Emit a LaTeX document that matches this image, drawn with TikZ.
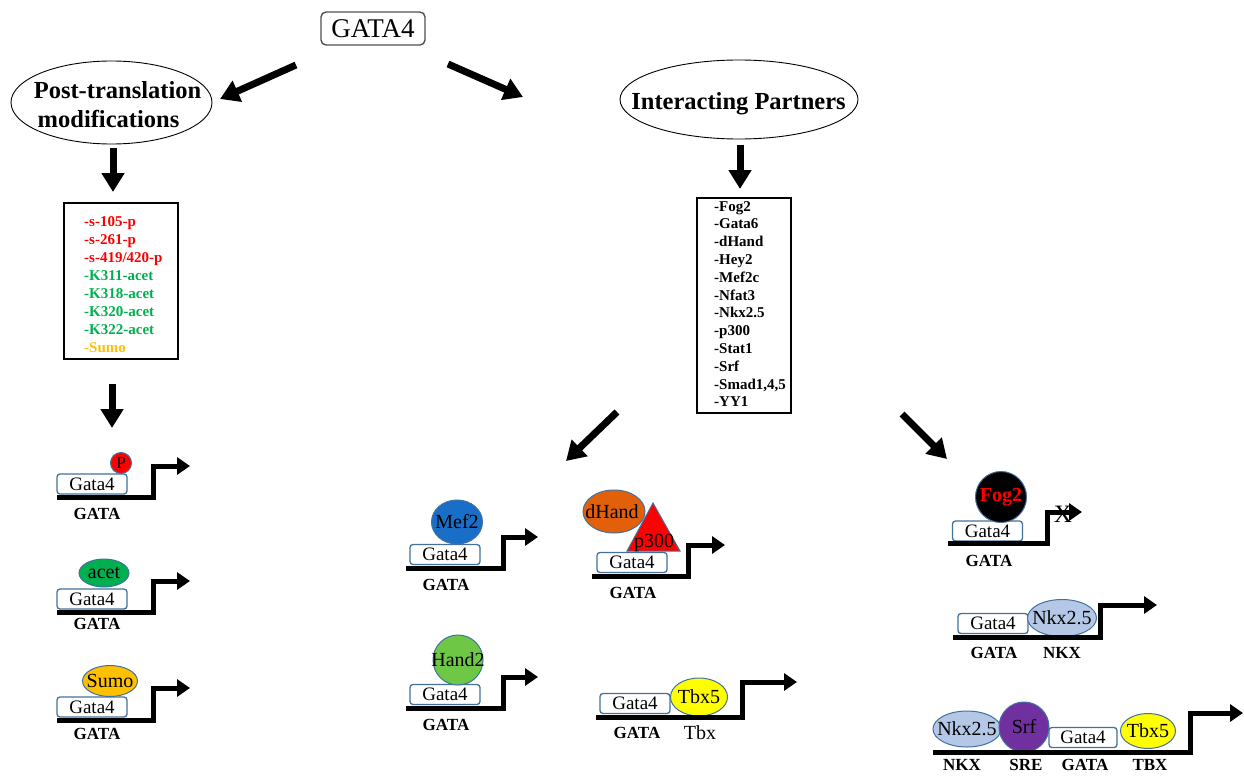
\documentclass[tikz,border=0pt]{standalone}
\usepackage{fontspec}
\setmainfont{Liberation Serif}
\usetikzlibrary{arrows.meta,shapes.geometric}
\definecolor{boxblue}{RGB}{65,113,156}
\definecolor{listred}{RGB}{255,0,0}
\definecolor{listgreen}{RGB}{0,176,80}
\definecolor{listorange}{RGB}{255,192,0}
\definecolor{acetgreen}{RGB}{0,176,80}
\definecolor{sumoorange}{RGB}{255,192,0}
\definecolor{mefblue}{RGB}{25,110,200}
\definecolor{handgreen}{RGB}{110,200,70}
\definecolor{dhandorange}{RGB}{226,96,10}
\definecolor{tbxyellow}{RGB}{255,255,0}
\definecolor{nkxblue}{RGB}{180,199,231}
\definecolor{srfpurple}{RGB}{112,48,160}
\definecolor{titlegray}{RGB}{80,80,80}
\newcommand\myfs[1]{\fontsize{#1pt}{#1pt}\selectfont}
\newcommand\zw[1]{\makebox[0pt]{#1}}
\begin{document}
\begin{tikzpicture}[x=1pt,y=-1pt,
 bigarrow/.style={line width=7pt,-{Triangle[length=19pt,width=22pt]}},
 dna/.style={line width=5pt,line join=miter,-{Triangle[length=13pt,width=17pt]}},
 gatabox/.style={draw=boxblue,line width=1.3pt,rounded corners=3pt,fill=white,minimum width=70pt,minimum height=20pt,inner sep=0pt,font=\myfs{19}},
 prot/.style={ellipse,draw=boxblue,line width=1pt,inner sep=0pt,font=\myfs{20}},
 protlabel/.style={inner sep=0pt,font=\myfs{20}},
 site/.style={font=\bfseries\myfs{17},inner sep=0pt},
 oval/.style={ellipse,draw=black,line width=0.9pt,inner sep=0pt},
 ovaltext/.style={anchor=base,inner sep=0pt,font=\bfseries\myfs{24.5}},
 listbox/.style={draw=black,line width=2pt,inner sep=0pt},
 listitem/.style={anchor=base west,inner sep=0pt,font=\bfseries\myfs{15}},
]
\useasboundingbox (0,0) rectangle (1244,776);

% ---------- top ----------
\node[draw=titlegray,line width=1.4pt,rounded corners=5pt,minimum width=104pt,minimum height=33pt,inner sep=0pt,font=\myfs{27}] (gata4) at (373,28.5) {\zw{GATA4}};

\node[oval,minimum width=201pt,minimum height=83pt] (ptm) at (111.5,102.5) {};
\node[ovaltext] (ptmA) at (117.5,98) {Post-translation};
\node[ovaltext] (ptmB) at (108.5,127) {modifications};

\node[oval,minimum width=238pt,minimum height=79pt] (ip) at (739,99.5) {};
\node[ovaltext] (ipA) at (738.5,109) {Interacting Partners};

\coordinate (a1s) at (296,65);  \coordinate (a1e) at (220,99);
\coordinate (a2s) at (448,64);  \coordinate (a2e) at (523,97);
\draw[bigarrow] (a1s) -- (a1e);
\draw[bigarrow] (a2s) -- (a2e);

% ---------- lists ----------
\node[listbox,minimum width=114pt,minimum height=156pt] (ptmbox) at (121,281) {};
\node[listitem,text=listred]    (l1) at (84,226) {-s-105-p};
\node[listitem,text=listred]    (l2) at (84,244) {-s-261-p};
\node[listitem,text=listred]    (l3) at (84,262) {-s-419/420-p};
\node[listitem,text=listgreen]  (l4) at (84,280) {-K311-acet};
\node[listitem,text=listgreen]  (l5) at (84,298) {-K318-acet};
\node[listitem,text=listgreen]  (l6) at (84,316) {-K320-acet};
\node[listitem,text=listgreen]  (l7) at (84,334) {-K322-acet};
\node[listitem,text=listorange] (l8) at (84,352) {-Sumo};

\node[listbox,minimum width=94pt,minimum height=215pt] (ipbox) at (744,305.5) {};
\foreach \t [count=\i from 0] in {-Fog2,-Gata6,-dHand,-Hey2,-Mef2c,-Nfat3,-Nkx2.5,-p300,-Stat1,-Srf,{-Smad1,4,5},-YY1}
  \node[listitem] (ip\i) at (714,211+17.8*\i) {\t};

\draw[bigarrow] ([xshift=1.5pt,yshift=-3.5pt]ptm.south) -- ([xshift=-8pt,yshift=10pt]ptmbox.north);
\draw[bigarrow] ([xshift=1pt,yshift=-6pt]ip.south) -- ([xshift=-4pt,yshift=8pt]ipbox.north);
\coordinate (a5e) at (112,428);
\draw[bigarrow] ([xshift=-9pt,yshift=-24pt]ptmbox.south) -- (a5e);
\coordinate (a6s) at (617,412); \coordinate (a6e) at (566,461);
\coordinate (a7s) at (902,414); \coordinate (a7e) at (947,459);
\draw[bigarrow] (a6s) -- (a6e);
\draw[bigarrow] (a7s) -- (a7e);

% ---------- left promoters ----------
\node[gatabox] (gL1) at (92,484) {Gata4};
\node[prot,fill=red,minimum size=21pt,font=\myfs{17}] (pP) at (121,463) {\zw{P}};
\draw[dna] (57,497) -- (153,497) -- (153,466) -- (190,466);
\node[site] (sL1) at (97,514) {GATA};

\node[gatabox] (gL2) at (92,599) {Gata4};
\node[prot,fill=acetgreen,minimum width=50pt,minimum height=28pt] (pacet) at (104,573) {\zw{acet}};
\draw[dna] (57,612) -- (153,612) -- (153,581) -- (190,581);
\node[site] (sL2) at (97,624) {GATA};

\node[gatabox] (gL3) at (92,707) {Gata4};
\node[prot,fill=sumoorange,minimum width=55pt,minimum height=31pt] (psumo) at (110,681) {\zw{Sumo}};
\draw[dna] (57,720) -- (153,720) -- (153,688) -- (190,688);
\node[site] (sL3) at (97,734) {GATA};

% ---------- middle promoters ----------
\node[gatabox] (gM1) at (445,554.5) {Gata4};
\node[prot,fill=mefblue,minimum width=51pt,minimum height=44pt] (pmef) at (457,522) {\zw{Mef2}};
\draw[dna] (406,568) -- (503,568) -- (503,537) -- (538,537);
\node[site] (sM1) at (446,585) {GATA};

\node[gatabox] (gM2) at (632,562.5) {Gata4};
\node[prot,fill=dhandorange,minimum width=62pt,minimum height=43pt] (pdhand) at (614,511.5) {};
\path[fill=red,draw=boxblue,line width=1pt] (653,503) -- (680,551) -- (627,551) -- cycle;
\node[protlabel] (tdhand) at (612,512) {dHand};
\node[protlabel,anchor=base] (tp300) at (654,547) {p300};
\draw[dna] (592,576) -- (688,576) -- (688,545) -- (725,545);
\node[site] (sM2) at (633,593) {GATA};

\node[gatabox] (gM3) at (445,694.5) {Gata4};
\node[prot,fill=handgreen,minimum size=50pt] (phand) at (458,660) {\zw{Hand2}};
\draw[dna] (406,708) -- (503,708) -- (503,677) -- (538,677);
\node[site] (sM3) at (446,725) {GATA};

\node[gatabox] (gM4) at (635,703.5) {Gata4};
\node[prot,fill=tbxyellow,minimum width=57pt,minimum height=38pt] (ptbxm) at (699,697) {\zw{Tbx5}};
\draw[dna] (596,717) -- (742,717) -- (742,682) -- (797,682);
\node[site] (sM4) at (637,733) {GATA};
\node[protlabel] (sM4b) at (700,733) {Tbx};

% ---------- right promoters ----------
\node[gatabox] (gR1) at (987.5,531) {Gata4};
\node[prot,fill=black,minimum size=51pt] (pfog) at (1001,497) {\zw{\textcolor{red}{\bfseries Fog2}}};
\draw[dna] (948,543) -- (1047,543) -- (1047,512) -- (1082,512);
\node[inner sep=0pt,font=\myfs{25}] (xmark) at (1063,514) {X};
\node[site] (sR1) at (989,561) {GATA};

\node[gatabox] (gR2) at (993,623.5) {Gata4};
\node[prot,fill=nkxblue,minimum width=69pt,minimum height=37pt] (pnkx1) at (1062,618) {\zw{Nkx2.5}};
\draw[dna] (953,637) -- (1100,637) -- (1100,605) -- (1157,605);
\node[site] (sR2) at (994,653) {GATA};
\node[site] (sR2b) at (1062,653) {NKX};

\node[gatabox,minimum width=68pt] (gR3) at (1083,737.5) {Gata4};
\node[prot,fill=nkxblue,minimum width=68pt,minimum height=36pt] (pnkx2) at (967,729) {\zw{Nkx2.5}};
\node[prot,fill=srfpurple,minimum size=50pt] (psrf) at (1024,727) {\zw{Srf}};
\node[prot,fill=tbxyellow,minimum width=55pt,minimum height=35pt] (ptbxr) at (1148,731) {\zw{Tbx5}};
\draw[dna] (933,752) -- (1190,752) -- (1190,713) -- (1243,713);
\node[site] (sR3a) at (962,765) {NKX};
\node[site] (sR3b) at (1026,765) {SRE};
\node[site] (sR3c) at (1085,765) {GATA};
\node[site] (sR3d) at (1150,765) {TBX};
\end{tikzpicture}
\end{document}
